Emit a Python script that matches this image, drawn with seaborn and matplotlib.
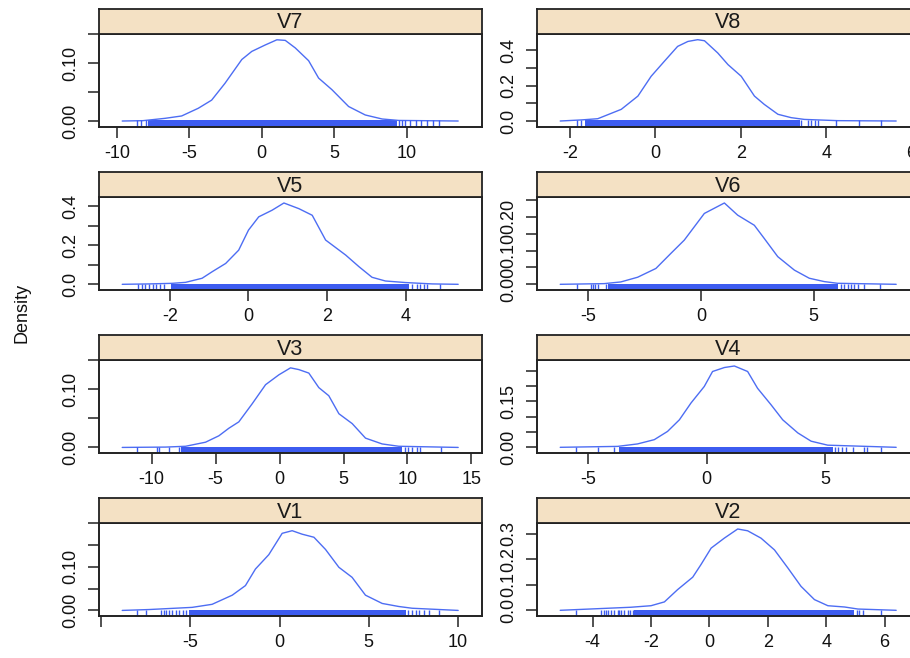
import numpy as np
import pandas as pd
import matplotlib
matplotlib.use("Agg")
import matplotlib.pyplot as plt
import seaborn as sns

# ---------------- data ----------------
panel_names = ["V7", "V8", "V5", "V6", "V3", "V4", "V1", "V2"]

v7_x = [-9.63, -8.2, -6.68, -5.53, -4.38, -3.46, -2.54, -1.38, -0.69, 0.23, 1.04, 1.62,
        2.31, 3.23, 3.92, 4.84, 5.99, 7.14, 8.3, 9.45, 13.55]
v7_y = [0.0, 0.0006, 0.0046, 0.0087, 0.022, 0.036, 0.065, 0.106, 0.120, 0.131, 0.140, 0.139,
        0.126, 0.104, 0.074, 0.054, 0.025, 0.0104, 0.0035, 0.001, 0.0]
v7_rug = [-8.6, -8.3, -8.0, 9.45, 9.68, 9.87, 10.26, 10.65, 11.0, 11.4, 11.8, 12.25]
v7_band = [-7.85, 9.35]

v8_x = [-2.23, -1.74, -1.35, -0.80, -0.41, -0.10, 0.21, 0.52, 0.76, 0.99, 1.15, 1.46, 1.70,
        2.01, 2.32, 2.55, 2.87, 3.18, 3.49, 4.27, 5.64]
v8_y = [0.0, 0.006, 0.013, 0.066, 0.141, 0.253, 0.338, 0.422, 0.450, 0.460, 0.454, 0.385, 0.319,
        0.253, 0.141, 0.094, 0.038, 0.019, 0.009, 0.002, 0.0]
v8_rug = [-1.84, -1.74, 3.41, 3.57, 3.65, 3.73, 3.80, 4.23, 4.78, 5.29]
v8_band = [-1.66, 3.38]

v5_x = [-3.21, -2.53, -1.94, -1.60, -1.18, -0.92, -0.58, -0.25, 0.0, 0.26, 0.60, 0.90, 1.28,
        1.62, 1.96, 2.47, 2.81, 3.14, 3.48, 3.99, 4.67, 5.33]
v5_y = [0.0, 0.002, 0.005, 0.010, 0.031, 0.065, 0.107, 0.175, 0.278, 0.346, 0.380, 0.417, 0.388,
        0.354, 0.227, 0.150, 0.090, 0.036, 0.017, 0.009, 0.002, 0.0]
v5_rug = [-2.81, -2.70, -2.62, -2.52, -2.43, -2.35, -2.26, -2.15, 4.16, 4.29, 4.35, 4.46, 4.54, 4.88]
v5_band = [-1.98, 4.08]

v6_x = [-6.25, -4.30, -3.56, -2.81, -2.0, -1.33, -0.74, 0.15, 1.04, 1.63, 2.37, 2.81, 3.41,
        4.15, 4.81, 5.48, 6.07, 8.67]
v6_y = [0.0, 0.002, 0.007, 0.021, 0.047, 0.092, 0.131, 0.210, 0.241, 0.205, 0.175, 0.136, 0.082,
        0.042, 0.018, 0.008, 0.003, 0.0]
v6_rug = [-5.51, -4.89, -4.81, -4.71, -4.59, -4.22, 6.22, 6.37, 6.52, 6.67, 6.81, 6.96, 7.26, 7.93]
v6_band = [-4.15, 6.07]

v3_x = [-12.29, -8.9, -7.34, -5.78, -4.74, -3.96, -3.18, -2.14, -1.09, -0.05, 0.86, 1.51, 2.29,
        3.07, 3.85, 4.64, 5.68, 6.72, 8.02, 9.32, 13.96]
v3_y = [0.0, 0.0006, 0.002, 0.009, 0.020, 0.033, 0.044, 0.075, 0.108, 0.125, 0.137, 0.134, 0.128,
        0.103, 0.089, 0.058, 0.041, 0.016, 0.006, 0.002, 0.0]
v3_rug = [-11.12, -9.56, -9.43, -8.65, -7.86, 9.79, 10.05, 10.36, 10.76, 10.94, 12.58]
v3_band = [-7.66, 9.58]

v4_x = [-6.18, -3.76, -2.92, -2.21, -1.65, -1.15, -0.66, -0.10, 0.25, 0.75, 1.17, 1.73, 2.15,
        2.72, 3.21, 3.85, 4.41, 5.11, 8.0]
v4_y = [0.0, 0.003, 0.011, 0.025, 0.052, 0.090, 0.145, 0.199, 0.248, 0.261, 0.266, 0.248, 0.193,
        0.139, 0.090, 0.047, 0.020, 0.007, 0.0]
v4_rug = [-5.52, -4.58, -3.93, 5.42, 5.54, 5.70, 5.89, 6.17, 6.66, 6.77, 7.37]
v4_band = [-3.69, 5.32]

v1_x = [-8.82, -7.33, -4.90, -3.78, -2.65, -1.91, -1.35, -0.60, 0.15, 0.71, 1.27, 1.93, 2.58,
        3.33, 4.07, 4.82, 5.76, 6.69, 7.44, 10.02]
v1_y = [0.0, 0.002, 0.007, 0.014, 0.035, 0.057, 0.095, 0.128, 0.177, 0.183, 0.175, 0.168, 0.140,
        0.099, 0.076, 0.035, 0.016, 0.009, 0.005, 0.0]
v1_rug = [-7.98, -7.51, -6.62, -6.49, -6.34, -6.21, -6.02, -5.83, -5.64, -5.42, -5.23,
          7.21, 7.44, 7.63, 7.85, 8.09, 8.37, 8.93]
v1_band = [-5.05, 7.07]

v2_x = [-5.11, -2.69, -2.0, -1.54, -1.09, -0.57, -0.29, 0.06, 0.51, 0.97, 1.31, 1.77, 2.23,
        2.69, 3.14, 3.60, 4.06, 4.63, 5.09, 6.40]
v2_y = [0.0, 0.012, 0.018, 0.033, 0.081, 0.130, 0.179, 0.244, 0.283, 0.319, 0.312, 0.283, 0.237,
        0.166, 0.094, 0.042, 0.018, 0.013, 0.005, 0.0]
v2_rug = [-4.57, -3.71, -3.62, -3.54, -3.46, -3.37, -3.26, -3.14, -3.09, -3.03, -2.91, -2.80,
          -2.71, -2.63, 5.06, 5.14, 5.26, 5.89]
v2_band = [-2.57, 4.97]

# tick values / labels
v7_xticks = [-10, -5, 0, 5, 10]; v7_xlabels = ["-10", "-5", "0", "5", "10"]
v8_xticks = [-2, 0, 2, 4, 6];    v8_xlabels = ["-2", "0", "2", "4", "6"]
v5_xticks = [-2, 0, 2, 4];       v5_xlabels = ["-2", "0", "2", "4"]
v6_xticks = [-5, 0, 5];          v6_xlabels = ["-5", "0", "5"]
v3_xticks = [-10, -5, 0, 5, 10, 15]; v3_xlabels = ["-10", "-5", "0", "5", "10", "15"]
v4_xticks = [-5, 0, 5];          v4_xlabels = ["-5", "0", "5"]
v1_xticks = [-10, -5, 0, 5, 10]; v1_xlabels = ["", "-5", "0", "5", "10"]
v2_xticks = [-4, -2, 0, 2, 4, 6]; v2_xlabels = ["-4", "-2", "0", "2", "4", "6"]

v7_yticks = [0, 0.05, 0.10, 0.15]; v7_ylabels = ["0.00", "", "0.10", ""]
v8_yticks = [0, 0.1, 0.2, 0.3, 0.4]; v8_ylabels = ["0.0", "", "0.2", "", "0.4"]
v5_yticks = [0, 0.1, 0.2, 0.3, 0.4]; v5_ylabels = ["0.0", "", "0.2", "", "0.4"]
v6_yticks = [0, 0.05, 0.10, 0.15, 0.20, 0.25]; v6_ylabels = ["0.00", "", "0.10", "", "0.20", ""]
v3_yticks = [0, 0.05, 0.10, 0.15]; v3_ylabels = ["0.00", "", "0.10", ""]
v4_yticks = [0, 0.05, 0.10, 0.15, 0.20, 0.25]; v4_ylabels = ["0.00", "", "", "0.15", "", ""]
v1_yticks = [0, 0.05, 0.10, 0.15, 0.20]; v1_ylabels = ["0.00", "", "0.10", "", ""]
v2_yticks = [0, 0.1, 0.2, 0.3]; v2_ylabels = ["0.0", "0.1", "0.2", "0.3"]

ylab = "Density"

panels = {
    "V7": (v7_x, v7_y, v7_rug, v7_band, v7_xticks, v7_xlabels, v7_yticks, v7_ylabels),
    "V8": (v8_x, v8_y, v8_rug, v8_band, v8_xticks, v8_xlabels, v8_yticks, v8_ylabels),
    "V5": (v5_x, v5_y, v5_rug, v5_band, v5_xticks, v5_xlabels, v5_yticks, v5_ylabels),
    "V6": (v6_x, v6_y, v6_rug, v6_band, v6_xticks, v6_xlabels, v6_yticks, v6_ylabels),
    "V3": (v3_x, v3_y, v3_rug, v3_band, v3_xticks, v3_xlabels, v3_yticks, v3_ylabels),
    "V4": (v4_x, v4_y, v4_rug, v4_band, v4_xticks, v4_xlabels, v4_yticks, v4_ylabels),
    "V1": (v1_x, v1_y, v1_rug, v1_band, v1_xticks, v1_xlabels, v1_yticks, v1_ylabels),
    "V2": (v2_x, v2_y, v2_rug, v2_band, v2_xticks, v2_xlabels, v2_yticks, v2_ylabels),
}

# ---------------- style ----------------
sns.set_theme(style="ticks")
plt.rcParams["font.family"] = ["Liberation Sans", "DejaVu Sans"]

W, H = 910, 658
DPI = 100
fig = plt.figure(figsize=(W / DPI, H / DPI), dpi=DPI)
fig.patch.set_facecolor("white")

line_col = "#4d6df3"
rug_col = "#3d5cf0"
strip_col = "#f4e1c4"
frame_col = "#222222"

col_left = [98.7, 536.7]
panel_w = 383.0
row_top = [9.0, 172.3, 335.3, 498.3]
strip_h = 25.0
plot_h = 92.7

PAD = 0.07
for i, name in enumerate(panel_names):
    r, c = divmod(i, 2)
    xs, ys, rug, band, xt, xl, yt, yl = panels[name]
    left = col_left[c] / W
    width = panel_w / W
    ax_top = row_top[r] + strip_h
    bottom = 1 - (ax_top + plot_h) / H
    ax = fig.add_axes([left, bottom, width, plot_h / H])
    sax = fig.add_axes([left, 1 - ax_top / H, width, strip_h / H])

    df = pd.DataFrame({"x": xs, "y": ys})
    sns.lineplot(data=df, x="x", y="y", ax=ax, color=line_col, lw=1.0, sort=False,
                 estimator=None)
    xmin, xmax = min(xs), max(xs)
    ymax = max(ys)
    ax.set_xlim(xmin - PAD * (xmax - xmin), xmax + PAD * (xmax - xmin))
    ax.set_ylim(-PAD * ymax, ymax * (1 + PAD))
    rug_h = PAD / (1 + 2 * PAD) + 0.008
    ax.axvspan(band[0], band[1], ymin=0, ymax=rug_h, color=rug_col, lw=0)
    sns.rugplot(x=rug, ax=ax, height=rug_h, color=rug_col, lw=1.0, expand_margins=False)

    ax.set_xticks(xt)
    ax.set_xticklabels(xl)
    ax.set_yticks(yt)
    ax.set_yticklabels(yl, rotation=90, va="center")
    ax.tick_params(axis="both", length=8, width=1.1, color=frame_col, labelsize=13,
                   labelcolor="#111111", direction="out")
    ax.tick_params(axis="x", pad=5)
    ax.tick_params(axis="y", pad=6)
    ax.set_xlabel("")
    ax.set_ylabel("")
    for s in ax.spines.values():
        s.set_visible(True)
        s.set_color(frame_col)
        s.set_linewidth(1.4)
    ax.set_facecolor("white")

    sax.set_facecolor(strip_col)
    sax.set_xticks([])
    sax.set_yticks([])
    for s in sax.spines.values():
        s.set_color(frame_col)
        s.set_linewidth(1.3)
    sax.text(0.5, 0.45, name, transform=sax.transAxes, ha="center", va="center",
             fontsize=15.5, color="#1a1a1a")

fig.text(22 / W, 1 - 313 / H, ylab, rotation=90, ha="center", va="center",
         fontsize=13, color="#111111")

fig.savefig("out.png", dpi=DPI, facecolor="white")
